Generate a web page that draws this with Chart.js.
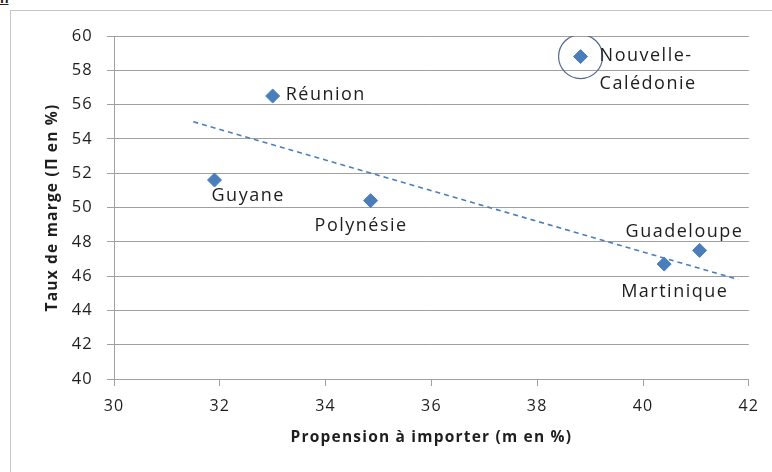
<!DOCTYPE html>
<html>
<head>
<meta charset="utf-8">
<script src="https://cdn.jsdelivr.net/npm/chart.js@4"></script>
<style>
  html, body { margin: 0; padding: 0; background: #fff; }
  #wrap { position: relative; width: 772px; height: 472px; overflow: hidden; }
  #frame { position: absolute; left: 10px; top: 10px; right: -2px; bottom: -2px;
           border-left: 1px solid #c6c6c6; border-top: 1px solid #c6c6c6; }
  #tag { position: absolute; left: 0; top: -10px; font: bold 14px "Liberation Sans", sans-serif;
         text-decoration: underline; color: #222; }
  canvas { position: absolute; left: 0; top: 0; }
</style>
</head>
<body>
<div id="wrap">
  <div id="frame"></div>
  <div id="tag">n</div>
  <canvas id="c" width="772" height="472"></canvas>
</div>
<script>
// Territories and their values (import propensity m, margin rate Π, in %)
const territories = ['Nouvelle-Calédonie', 'Réunion', 'Guyane', 'Polynésie', 'Martinique', 'Guadeloupe'];
const importPropensity = [38.82, 33.0, 31.9, 34.85, 40.4, 41.07];
const marginRate = [58.8, 56.5, 51.6, 50.4, 46.7, 47.5];
const pointLabels = [['Nouvelle-', 'Calédonie'], ['Réunion'], ['Guyane'], ['Polynésie'], ['Martinique'], ['Guadeloupe']];

// Dashed trend line end points
const trendX = [31.5, 41.8];
const trendY = [55.0, 45.8];

// Highlighted territory (circled)
const highlightIndex = 0;

// Axis ranges
const xAxis = { min: 30, max: 42, step: 2, title: 'Propension à importer (m en %)' };
const yAxis = { min: 40, max: 60, step: 2, title: 'Taux de marge (Π en %)' };

// Label placement relative to each marker (pixels)
const labelOffsets = [
  { dx: 19, dy: -1, lineGap: 28 },
  { dx: 13, dy: -1 },
  { dx: -3, dy: 16 },
  { dx: -56, dy: 25 },
  { dx: -43, dy: 28 },
  { dx: -74, dy: -19 }
];

const BLUE = '#4a7ebb';
const GRID = '#a0a0a0';
const TEXT = '#1e1e1e';
const FONT = '"Open Sans", "Liberation Sans", sans-serif';

const points = importPropensity.map((x, i) => ({ x, y: marginRate[i] }));
const trend = trendX.map((x, i) => ({ x, y: trendY[i] }));

// Slightly loose letter spacing for all axis text
const spacingPlugin = {
  id: 'spacing',
  beforeDraw(chart) { chart.ctx.letterSpacing = '1.2px'; }
};

const pointLabelPlugin = {
  id: 'pointLabels',
  afterDatasetsDraw(chart) {
    const meta = chart.getDatasetMeta(0);
    const ctx = chart.ctx;
    ctx.save();
    ctx.font = '18px ' + FONT;
    ctx.letterSpacing = '1.5px';
    ctx.fillStyle = TEXT;
    ctx.textAlign = 'left';
    ctx.textBaseline = 'middle';
    meta.data.forEach((el, i) => {
      const off = labelOffsets[i];
      pointLabels[i].forEach((line, k) => {
        ctx.fillText(line, el.x + off.dx, el.y + off.dy + k * (off.lineGap || 0));
      });
    });
    ctx.restore();
  }
};

new Chart(document.getElementById('c'), {
  type: 'scatter',
  data: {
    datasets: [
      {
        label: 'Territoires',
        data: points,
        pointStyle: 'rectRot',
        pointRadius: 7,
        pointHoverRadius: 7,
        backgroundColor: BLUE,
        borderColor: BLUE,
        borderWidth: 1,
        order: 1
      },
      {
        label: 'Repère',
        data: [points[highlightIndex]],
        pointStyle: 'circle',
        pointRadius: 22,
        backgroundColor: 'rgba(0,0,0,0)',
        borderColor: '#56698a',
        borderWidth: 1.2,
        order: 2
      },
      {
        label: 'Tendance',
        type: 'line',
        data: trend,
        showLine: true,
        borderColor: BLUE,
        borderWidth: 1.6,
        borderDash: [5, 4],
        pointRadius: 0,
        fill: false,
        order: 3
      }
    ]
  },
  options: {
    responsive: false,
    animation: false,
    events: [],
    layout: { padding: { left: 10, right: 20, top: 36, bottom: 20 } },
    plugins: { legend: { display: false }, tooltip: { enabled: false } },
    scales: {
      x: {
        type: 'linear',
        min: xAxis.min,
        max: xAxis.max,
        ticks: { stepSize: xAxis.step, color: TEXT, font: { family: FONT, size: 16 }, padding: 11 },
        grid: { drawOnChartArea: false, drawTicks: true, tickLength: 7, color: GRID },
        border: { color: GRID, width: 1 },
        title: { display: true, text: xAxis.title, color: TEXT,
                 font: { family: FONT, size: 15.5, weight: 'bold' }, padding: { top: 0, bottom: 5 } },
        afterFit(s) { s.height = 73; }
      },
      y: {
        type: 'linear',
        min: yAxis.min,
        max: yAxis.max,
        ticks: { stepSize: yAxis.step, color: TEXT, font: { family: FONT, size: 16.5 }, padding: 14 },
        grid: { color: GRID, tickLength: 7, lineWidth: 1 },
        border: { color: GRID, width: 1 },
        title: { display: true, text: yAxis.title, color: TEXT,
                 font: { family: FONT, size: 15.5, weight: 'bold' }, padding: { top: 33, bottom: 0 } },
        afterFit(s) { s.width = 104; }
      }
    }
  },
  plugins: [spacingPlugin, pointLabelPlugin]
});
</script>
</body>
</html>
